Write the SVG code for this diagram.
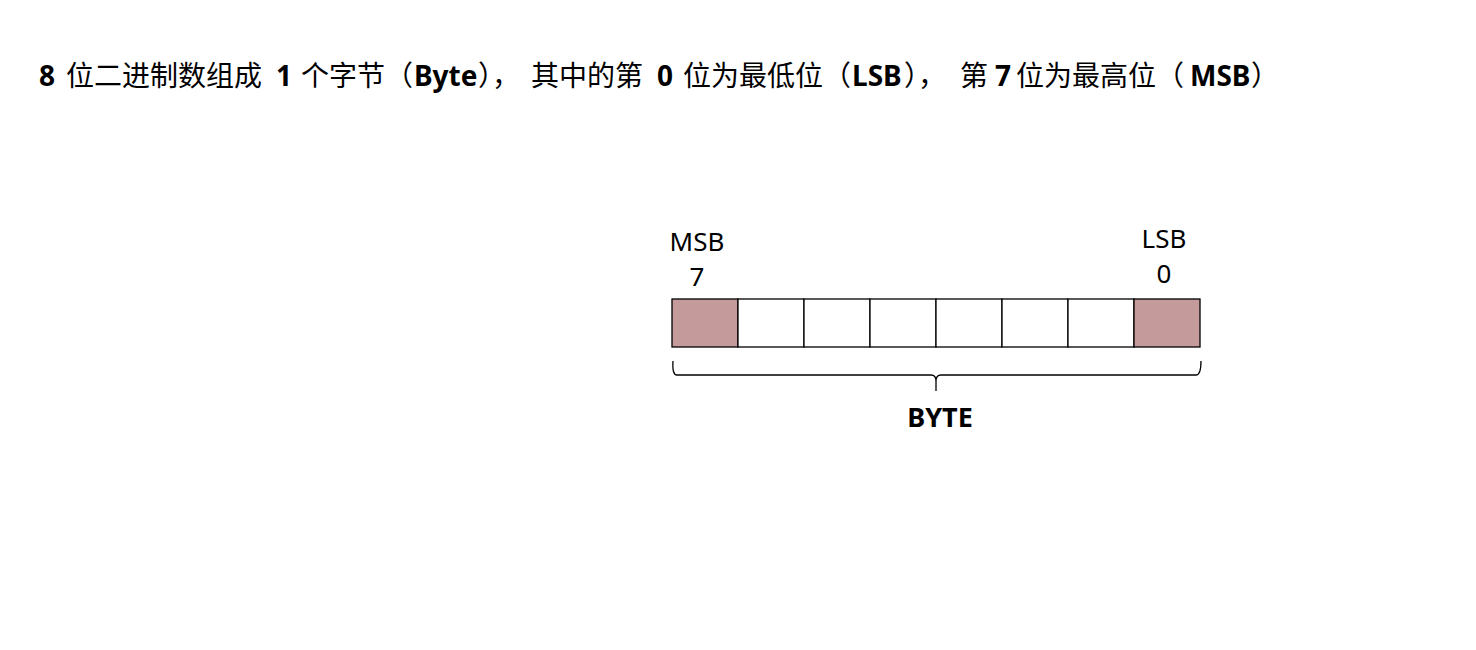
<svg xmlns="http://www.w3.org/2000/svg" width="1476" height="650" viewBox="0 0 1476 650">
<style>
.t{font-family:"Noto Sans","Noto Sans CJK SC",sans-serif;font-size:28px;fill:#000}
.b{font-weight:bold}
.lbl{font-family:"Noto Sans",sans-serif;font-size:26px;fill:#000;text-anchor:middle}
.cell{fill:#fff;stroke:#000;stroke-width:1.3}
.hi{fill:#c49a9a}
.brace{fill:none;stroke:#000;stroke-width:1.3}
</style>
<rect width="1476" height="650" fill="#fff"/>
<g id="title">
<text class="t" y="86"><tspan class="b" x="39">8</tspan><tspan x="66">位二进制数组成</tspan><tspan class="b" x="276">1</tspan><tspan x="301">个字节（</tspan><tspan class="b" x="414">Byte</tspan><tspan x="478">），</tspan><tspan x="531">其中的第</tspan><tspan class="b" x="657">0</tspan><tspan x="683">位为最低位（</tspan><tspan class="b" x="852">LSB</tspan><tspan x="904">），</tspan><tspan x="960">第</tspan><tspan class="b" x="995">7</tspan><tspan x="1016">位为最高位（</tspan><tspan class="b" x="1190">MSB</tspan><tspan x="1251">）</tspan></text>
</g>
<g id="byte">
<rect class="cell hi" x="672" y="299" width="66" height="48"/>
<rect class="cell" x="738" y="299" width="66" height="48"/>
<rect class="cell" x="804" y="299" width="66" height="48"/>
<rect class="cell" x="870" y="299" width="66" height="48"/>
<rect class="cell" x="936" y="299" width="66" height="48"/>
<rect class="cell" x="1002" y="299" width="66" height="48"/>
<rect class="cell" x="1068" y="299" width="66" height="48"/>
<rect class="cell hi" x="1134" y="299" width="66" height="48"/>
</g>
<g id="msb"><text class="lbl" x="697" y="251">MSB</text><text class="lbl" x="697" y="286">7</text></g>
<g id="lsb"><text class="lbl" x="1164" y="248">LSB</text><text class="lbl" x="1164" y="283">0</text></g>
<g id="connectors">
<path class="brace" d="M673,361 Q672,375 677,375 L931,375 Q936,375 936,381 L936,391 M936,381 Q936,375 941,375 L1196,375 Q1201,375 1201,361"/>
</g>
<g id="bytelabel"><text class="lbl b" x="940" y="427" style="font-size:27px">BYTE</text></g>
</svg>
